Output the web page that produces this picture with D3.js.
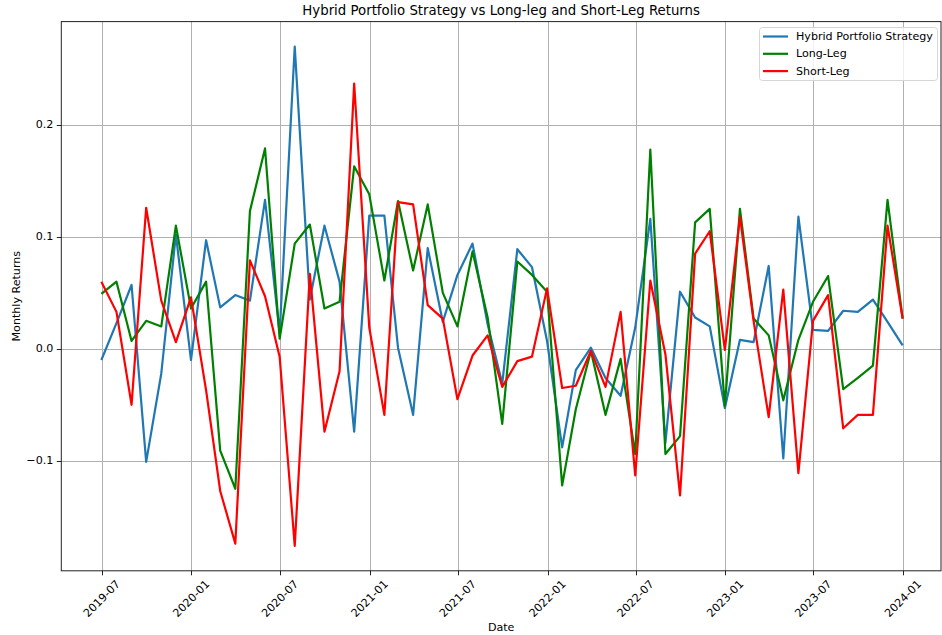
<!DOCTYPE html>
<html>
<head>
<meta charset="utf-8">
<script src="https://cdn.jsdelivr.net/npm/d3@7"></script>
<style>
  body { margin: 0; background: #fff; }
  svg { display: block; font-family: "DejaVu Sans", sans-serif; }
</style>
</head>
<body>
<svg id="chart" width="942" height="635"></svg>
<script>
// Month-end observations, June 2019 .. December 2023 (labelled by month)
const months = [
  "2019-06","2019-07","2019-08","2019-09","2019-10","2019-11","2019-12",
  "2020-01","2020-02","2020-03","2020-04","2020-05","2020-06","2020-07",
  "2020-08","2020-09","2020-10","2020-11","2020-12","2021-01","2021-02",
  "2021-03","2021-04","2021-05","2021-06","2021-07","2021-08","2021-09",
  "2021-10","2021-11","2021-12","2022-01","2022-02","2022-03","2022-04",
  "2022-05","2022-06","2022-07","2022-08","2022-09","2022-10","2022-11",
  "2022-12","2023-01","2023-02","2023-03","2023-04","2023-05","2023-06",
  "2023-07","2023-08","2023-09","2023-10","2023-11","2023-12"
];

const hybrid = [
  -0.010, 0.023, 0.057, -0.101, -0.022, 0.102, -0.010, 0.097, 0.037, 0.048,
   0.043, 0.133, 0.014, 0.270, 0.044, 0.110, 0.060, -0.074, 0.119, 0.119,
   0.001, -0.059, 0.090, 0.024, 0.066, 0.094, 0.022, -0.031, 0.089, 0.073,
   0.007, -0.088, -0.019, 0.001, -0.026, -0.042, 0.019, 0.116, -0.084, 0.051,
   0.028, 0.020, -0.053, 0.008, 0.006, 0.074, -0.098, 0.118, 0.017, 0.016,
   0.034, 0.033, 0.044, 0.024, 0.003
];

const longLeg = [
   0.049, 0.060, 0.007, 0.025, 0.020, 0.110, 0.036, 0.060, -0.091, -0.125,
   0.123, 0.179, 0.009, 0.094, 0.111, 0.036, 0.042, 0.163, 0.138, 0.061,
   0.132, 0.070, 0.129, 0.050, 0.020, 0.087, 0.028, -0.067, 0.078, 0.066,
   0.051, -0.122, -0.054, -0.002, -0.059, -0.009, -0.094, 0.178, -0.094, -0.078,
   0.113, 0.125, -0.051, 0.125, 0.027, 0.012, -0.046, 0.008, 0.042, 0.065,
  -0.036, -0.026, -0.015, 0.133, 0.027
];

const shortLeg = [
   0.060, 0.033, -0.050, 0.126, 0.043, 0.006, 0.046, -0.037, -0.127, -0.174,
   0.079, 0.047, -0.007, -0.176, 0.067, -0.074, -0.020, 0.237, 0.019, -0.059,
   0.131, 0.129, 0.039, 0.027, -0.045, -0.006, 0.012, -0.034, -0.011, -0.007,
   0.054, -0.035, -0.033, -0.002, -0.034, 0.033, -0.113, 0.061, -0.005, -0.131,
   0.085, 0.105, -0.001, 0.118, 0.025, -0.061, 0.053, -0.111, 0.025, 0.048,
  -0.071, -0.059, -0.059, 0.110, 0.027
];

const seriesNames = ["Hybrid Portfolio Strategy", "Long-Leg", "Short-Leg"];
const seriesColors = ["#1f77b4", "#008000", "#ff0000"];
const yTickValues = [-0.1, 0.0, 0.1, 0.2];

const chartTitle = "Hybrid Portfolio Strategy vs Long-leg and Short-Leg Returns";
const xLabel = "Date";
const yLabel = "Monthly Returns";

// ---- layout ----
const W = 942, H = 635;
const plot = { left: 61.3, right: 941, top: 21.6, bottom: 570.8 };
// the padded date range maps slightly past the visible frame on the right
const xRange = [61.3, 942.7];

const parseMonth = d3.utcParse("%Y-%m");
// last day of each month
const dates = months.map(m => d3.utcDay.offset(d3.utcMonth.offset(parseMonth(m), 1), -1));

const allSeries = [hybrid, longLeg, shortLeg];

// Axis limits with a 5% margin on each side of the data range
function padded(lo, hi) {
  const m = (hi - lo) * 0.05;
  return [lo - m, hi + m];
}
const tExtent = d3.extent(dates, d => +d);
const [t0, t1] = padded(tExtent[0], tExtent[1]);
const allVals = allSeries.flat();
const [v0, v1] = padded(d3.min(allVals), d3.max(allVals));

const x = d3.scaleUtc().domain([new Date(t0), new Date(t1)]).range(xRange);
const y = d3.scaleLinear().domain([v0, v1]).range([plot.bottom, plot.top]);

const svg = d3.select("#chart");
svg.append("rect").attr("width", W).attr("height", H).attr("fill", "#fff");

const xTicks = d3.utcMonth.every(6).range(new Date(t0), new Date(t1));
const fmtX = d3.utcFormat("%Y-%m");
const fmtY = v => d3.format(".1f")(v).replace("-", "\u2212");

// grid
const grid = svg.append("g").attr("stroke", "#b0b0b0").attr("stroke-width", 1);
grid.selectAll("line.vx").data(xTicks).join("line")
  .attr("x1", d => Math.round(x(d)) + 0.5).attr("x2", d => Math.round(x(d)) + 0.5)
  .attr("y1", plot.top).attr("y2", plot.bottom);
grid.selectAll("line.hy").data(yTickValues).join("line")
  .attr("y1", d => Math.round(y(d)) + 0.5).attr("y2", d => Math.round(y(d)) + 0.5)
  .attr("x1", plot.left).attr("x2", plot.right);

// clip for the lines
svg.append("clipPath").attr("id", "clip").append("rect")
  .attr("x", plot.left).attr("y", plot.top)
  .attr("width", plot.right - plot.left).attr("height", plot.bottom - plot.top);

const line = d3.line().x((d, i) => x(dates[i])).y(d => y(d));
svg.append("g").attr("clip-path", "url(#clip)")
  .selectAll("path").data(allSeries).join("path")
  .attr("d", d => line(d))
  .attr("fill", "none")
  .attr("stroke", (d, i) => seriesColors[i])
  .attr("stroke-width", 2.2)
  .attr("stroke-linejoin", "round")
  .attr("stroke-linecap", "butt");

// frame
svg.append("rect")
  .attr("x", plot.left).attr("y", plot.top)
  .attr("width", plot.right - plot.left).attr("height", plot.bottom - plot.top)
  .attr("fill", "none").attr("stroke", "#222").attr("stroke-width", 1);

// x axis ticks and rotated labels
const xg = svg.append("g");
xg.selectAll("line").data(xTicks).join("line")
  .attr("x1", d => Math.round(x(d)) + 0.5).attr("x2", d => Math.round(x(d)) + 0.5)
  .attr("y1", plot.bottom).attr("y2", plot.bottom + 4.5)
  .attr("stroke", "#222").attr("stroke-width", 1);
xg.selectAll("text").data(xTicks).join("text")
  .attr("transform", d => `translate(${x(d)},${plot.bottom + 28}) rotate(-45)`)
  .attr("text-anchor", "middle")
  .attr("dominant-baseline", "central")
  .attr("font-size", 11.1)
  .attr("fill", "#000")
  .text(d => fmtX(d));

// y axis ticks and labels
const yg = svg.append("g");
yg.selectAll("line").data(yTickValues).join("line")
  .attr("y1", d => Math.round(y(d)) + 0.5).attr("y2", d => Math.round(y(d)) + 0.5)
  .attr("x1", plot.left - 4.5).attr("x2", plot.left)
  .attr("stroke", "#222").attr("stroke-width", 1);
yg.selectAll("text").data(yTickValues).join("text")
  .attr("x", plot.left - 8)
  .attr("y", d => y(d))
  .attr("text-anchor", "end")
  .attr("dominant-baseline", "central")
  .attr("font-size", 11.1)
  .attr("fill", "#000")
  .text(d => fmtY(d));

// axis titles
svg.append("text")
  .attr("x", (plot.left + plot.right) / 2).attr("y", 631)
  .attr("text-anchor", "middle").attr("font-size", 11.1).attr("fill", "#000")
  .text(xLabel);
svg.append("text")
  .attr("transform", `translate(20,${(plot.top + plot.bottom) / 2}) rotate(-90)`)
  .attr("text-anchor", "middle").attr("font-size", 11.1).attr("fill", "#000")
  .text(yLabel);

// chart title
svg.append("text")
  .attr("x", (plot.left + plot.right) / 2).attr("y", 15)
  .attr("text-anchor", "middle").attr("font-size", 13.3).attr("fill", "#000")
  .text(chartTitle);

// legend
const lg = svg.append("g");
lg.append("rect")
  .attr("x", 759.5).attr("y", 27.5).attr("width", 178).attr("height", 53)
  .attr("rx", 3).attr("fill", "#fff").attr("fill-opacity", 0.8)
  .attr("stroke", "#d6d6d6").attr("stroke-width", 1);
const items = lg.selectAll("g.item").data(seriesNames).join("g")
  .attr("transform", (d, i) => `translate(0,${36.5 + i * 17.3})`);
items.append("line")
  .attr("x1", 763).attr("x2", 788).attr("y1", 0).attr("y2", 0)
  .attr("stroke", (d, i) => seriesColors[i]).attr("stroke-width", 2.2);
items.append("text")
  .attr("x", 796).attr("y", 0).attr("dominant-baseline", "central")
  .attr("font-size", 11.1).attr("fill", "#000")
  .text(d => d);
</script>
</body>
</html>
